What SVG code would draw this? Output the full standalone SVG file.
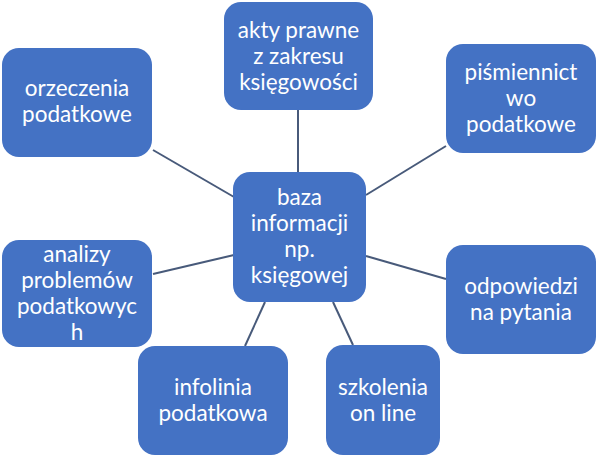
<svg xmlns="http://www.w3.org/2000/svg" width="600" height="457" viewBox="0 0 600 457">
<style>
.box{fill:#4472C4;}
.t{font-family:Lato,"Open Sans","Liberation Sans",sans-serif;font-size:22.5px;fill:#FFFFFF;text-anchor:middle;}
.c line{stroke:#485A7A;stroke-width:2;}
</style>
<rect width="600" height="457" fill="#FFFFFF"/>
<g class="c" id="connectors">
<line x1="153" y1="150" x2="234" y2="197"/>
<line x1="298" y1="110" x2="298" y2="172"/>
<line x1="446" y1="146" x2="366" y2="195"/>
<line x1="153" y1="274" x2="234" y2="255"/>
<line x1="245" y1="346" x2="265" y2="302"/>
<line x1="353" y1="345" x2="333" y2="302"/>
<line x1="366" y1="256" x2="446" y2="279"/>
</g>
<g id="center">
<rect class="box" x="233" y="172" width="133" height="130" rx="17"/>
<text class="t"><tspan x="299.5" y="205">baza</tspan><tspan x="299.5" y="231">informacji</tspan><tspan x="299.5" y="257">np.</tspan><tspan x="299.5" y="283">księgowej</tspan></text>
</g>
<g id="orzeczenia">
<rect class="box" x="2" y="48" width="150" height="109" rx="17"/>
<text class="t"><tspan x="77" y="96">orzeczenia</tspan><tspan x="77" y="121.5">podatkowe</tspan></text>
</g>
<g id="akty">
<rect class="box" x="224" y="2" width="149" height="108" rx="17"/>
<text class="t"><tspan x="298.5" y="38">akty prawne</tspan><tspan x="298.5" y="64">z zakresu</tspan><tspan x="298.5" y="90">księgowości</tspan></text>
</g>
<g id="pismiennictwo">
<rect class="box" x="446" y="44" width="150" height="109" rx="17"/>
<text class="t"><tspan x="521" y="80">piśmiennict</tspan><tspan x="521" y="106">wo</tspan><tspan x="521" y="132">podatkowe</tspan></text>
</g>
<g id="analizy">
<rect class="box" x="2" y="240" width="150" height="107" rx="17"/>
<text class="t"><tspan x="77" y="262">analizy</tspan><tspan x="77" y="288">problemów</tspan><tspan x="77" y="314">podatkowyc</tspan><tspan x="77" y="340">h</tspan></text>
</g>
<g id="infolinia">
<rect class="box" x="138" y="346" width="150" height="109" rx="17"/>
<text class="t"><tspan x="213" y="395">infolinia</tspan><tspan x="213" y="421">podatkowa</tspan></text>
</g>
<g id="szkolenia">
<rect class="box" x="326" y="345" width="114" height="110" rx="17"/>
<text class="t"><tspan x="383" y="395">szkolenia</tspan><tspan x="383" y="421">on line</tspan></text>
</g>
<g id="odpowiedzi">
<rect class="box" x="446" y="245" width="150" height="109" rx="17"/>
<text class="t"><tspan x="521" y="294">odpowiedzi</tspan><tspan x="521" y="320">na pytania</tspan></text>
</g>
</svg>
